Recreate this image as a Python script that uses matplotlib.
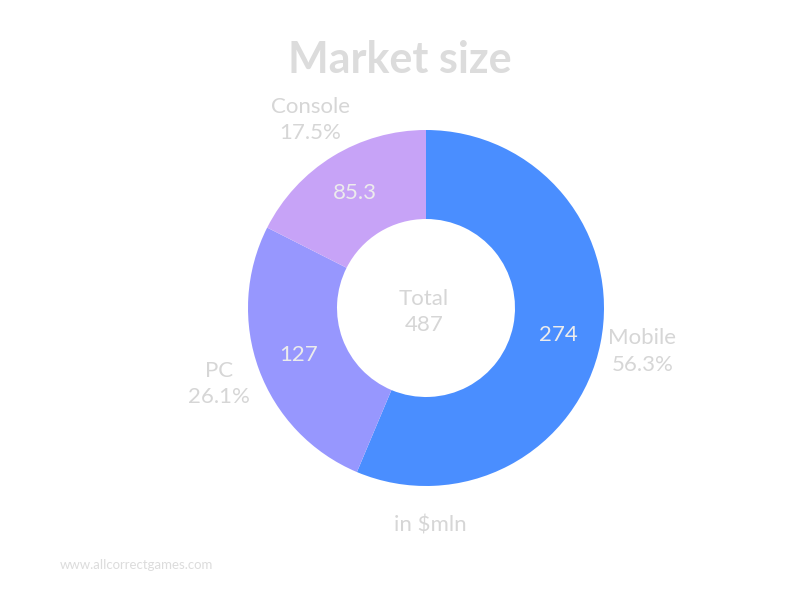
import numpy as np
import matplotlib.pyplot as plt

plt.rcParams['font.family'] = ['Lato', 'DejaVu Sans']

# данные
segments = ['Mobile', 'PC', 'Console']
values = [274, 127, 85.3]
total_label = '487'
colors = ['#4a8eff', '#9797fe', '#c7a3f7']

pct = [v / sum(values) * 100 for v in values]
outer_labels = [f'{s}\n{p:.1f}%' for s, p in zip(segments, pct)]
inner_labels = [f'{v:g}' for v in values]

fig = plt.figure(figsize=(8, 6), dpi=100)
ax = fig.add_axes([0, 0, 1, 1])

cx, cy, r = 426, 292, 178
wedges, texts = ax.pie(values, colors=colors, startangle=90, counterclock=False,
                       center=(cx, cy), radius=r, labels=outer_labels,
                       labeldistance=1.24, frame=True,
                       wedgeprops=dict(width=r * 0.5, linewidth=0),
                       textprops=dict(color='#d6d6d6', fontsize=16,
                                      ha='center', va='center', linespacing=1.4))
ax.set_xlim(0, 800)
ax.set_ylim(0, 600)
ax.set_aspect('equal')
ax.axis('off')
for t in texts:
    t.set_horizontalalignment('center')

# подписи внутри сегментов
for w, lbl in zip(wedges, inner_labels):
    ang = np.deg2rad((w.theta1 + w.theta2) / 2)
    ax.text(cx + 0.76 * r * np.cos(ang), cy + 0.76 * r * np.sin(ang), lbl,
            color='#ececec', fontsize=16, ha='center', va='center')

ax.text(cx - 2, cy - 4, 'Total\n' + total_label, color='#d6d6d6', fontsize=16,
        ha='center', va='center', linespacing=1.4)

ax.text(400, 540, 'Market size', color='#dcdcdc', fontsize=31,
        fontweight='bold', ha='center', va='center')
ax.text(430, 75, 'in $mln', color='#d6d6d6', fontsize=16, ha='center', va='center')
ax.text(60, 35, 'www.allcorrectgames.com', color='#dcdcdc', fontsize=9.5,
        ha='left', va='center')

fig.savefig('out.png', dpi=100)
